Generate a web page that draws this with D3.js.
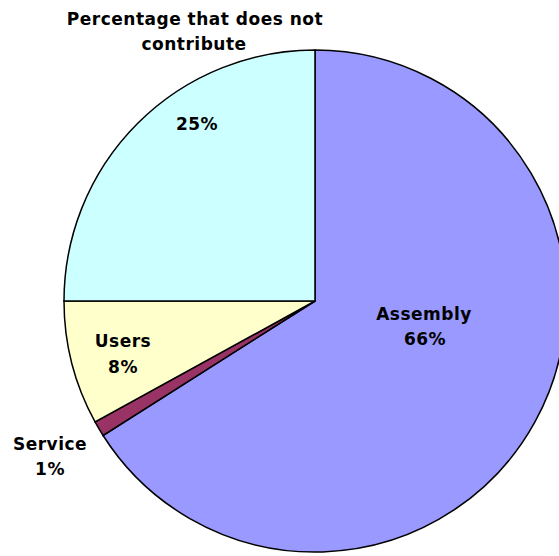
<!DOCTYPE html>
<html><head><meta charset="utf-8">
<script src="https://cdn.jsdelivr.net/npm/d3@7"></script>
<style>body{margin:0;background:#fff}svg{display:block}</style>
</head><body>
<svg id="c" width="559" height="556"></svg>
<script>
const categories = ["Assembly", "Service", "Users", "Percentage that does not contribute"];
const values = [66, 1, 8, 25];
const colors = ["#9999ff", "#993366", "#ffffcc", "#ccffff"];
const labelLines = [["Assembly", "66%"], ["Service", "1%"], ["Users", "8%"], ["Percentage that does not", "contribute", "25%"]];

const svg = d3.select("#c");
const cx = 315, cy = 301, r = 251;
const g = svg.append("g").attr("transform", `translate(${cx},${cy})`);
const pie = d3.pie().sort(null).value(d => d)(values);
const arc = d3.arc().innerRadius(0).outerRadius(r);
g.selectAll("path").data(pie).join("path")
  .attr("d", arc).attr("fill", (d, i) => colors[i])
  .attr("stroke", "#000").attr("stroke-width", 1.5);

// label line positions: [x centre, baseline y] per line
const labelPos = [
  [[424, 320], [425, 345]],
  [[50, 450], [50, 475]],
  [[123, 347], [123, 373]],
  [[195, 25], [194, 50], [197, 130]]
];
const font = "'DejaVu Sans', sans-serif";
labelLines.forEach((lines, i) => {
  const t = svg.append("text").attr("text-anchor", "middle")
    .attr("font-family", font).attr("font-weight", "bold").attr("font-size", 17)
    .attr("letter-spacing", 0.5).attr("fill", "#000");
  lines.forEach((s, j) => {
    t.append("tspan").attr("x", labelPos[i][j][0]).attr("y", labelPos[i][j][1]).text(s);
  });
});
</script>
</body></html>
